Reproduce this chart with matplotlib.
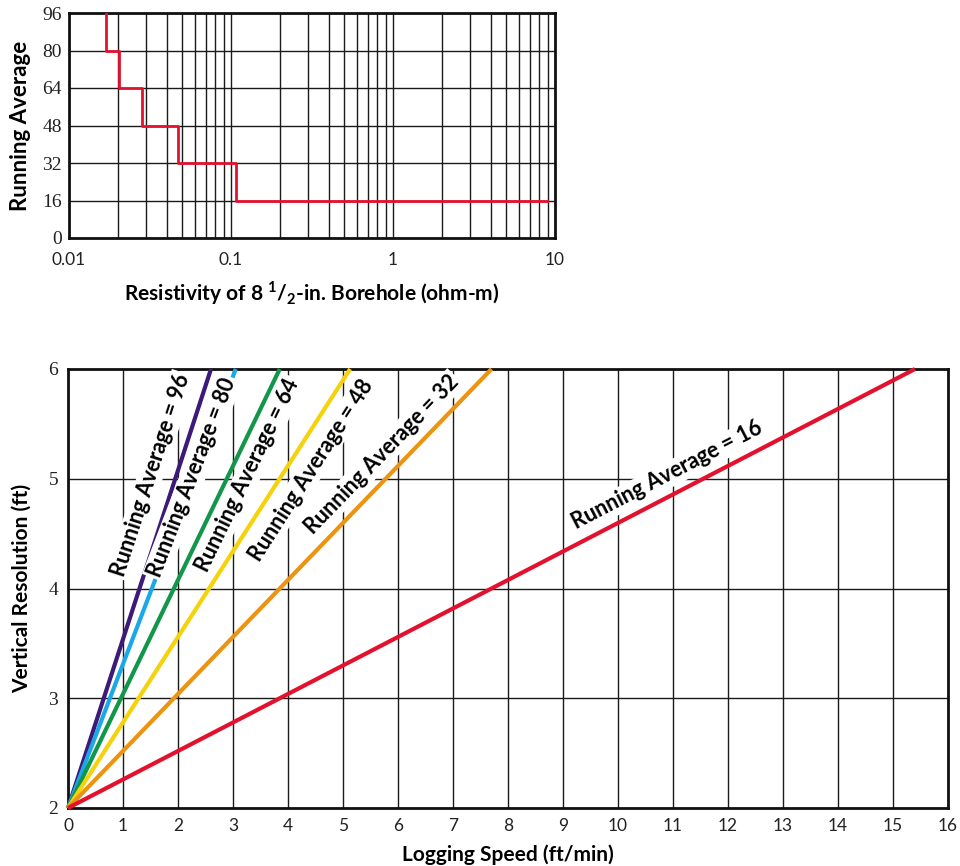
import numpy as np
import matplotlib
matplotlib.use("Agg")
import matplotlib.pyplot as plt
from matplotlib.ticker import FixedLocator, NullFormatter, LogLocator

plt.rcParams['font.family'] = ['Lato', 'DejaVu Sans']
plt.rcParams['mathtext.fontset'] = 'custom'
plt.rcParams['mathtext.bf'] = 'Lato:bold'
plt.rcParams['mathtext.rm'] = 'Lato:bold'

# ---- top chart data (step curve) ----
resistivity = [0.0169, 0.0203, 0.0281, 0.0468, 0.108, 8.9]
running_avg_step = [96, 80, 64, 48, 32, 16]
top_yticks = [0, 16, 32, 48, 64, 80, 96]
top_xticks = [0.01, 0.1, 1, 10]
top_xticklabels = ["0.01", "0.1", "1", "10"]

# ---- bottom chart data ----
running_avgs = [96, 80, 64, 48, 32, 16]
speed_at_6ft = [2.6, 3.05, 3.85, 5.13, 7.7, 15.4]
res_start = 2.0
res_end = 6.0
line_colors = ["#3d1a78", "#1aa9e6", "#12964a", "#f5d20a", "#ec9410", "#e2122f"]
label_pos = [(1.5, 5.03), (2.26, 5.01), (3.27, 5.03), (4.42, 5.08), (5.7, 5.22), (10.9, 5.03)]
bottom_xticks = list(range(0, 17))
bottom_yticks = [2, 3, 4, 5, 6]

W, H = 960, 866
fig = plt.figure(figsize=(W / 100, H / 100), dpi=100)

def rect(l, t, r, b):
    return [l / W, 1 - b / H, (r - l) / W, (b - t) / H]

grid_kw = dict(color="#1a1a1a", linewidth=1.0)
tick_font = dict(family=['Lato', 'DejaVu Sans'], size=12.5, color="#222222")
ytick_font = dict(family=['Liberation Serif', 'DejaVu Serif'], size=14, color="#222222")
label_font = dict(family=['Lato', 'DejaVu Sans'], size=15, weight='bold')

# ---------------- top axes ----------------
ax1 = fig.add_axes(rect(69, 13, 555, 238))
ax1.set_xscale('log')
ax1.set_xlim(0.01, 10)
ax1.set_ylim(0, 96)
ax1.step(resistivity, running_avg_step, where='pre', color="#e2122f", linewidth=2.0, zorder=3)
ax1.xaxis.set_major_locator(FixedLocator(top_xticks))
ax1.xaxis.set_minor_locator(LogLocator(base=10, subs=np.arange(2, 10)))
ax1.xaxis.set_minor_formatter(NullFormatter())
ax1.set_xticks(top_xticks)
ax1.set_xticklabels(top_xticklabels, **tick_font)
ax1.set_yticks(top_yticks)
ax1.set_yticklabels([str(v) for v in top_yticks], **ytick_font)
ax1.grid(True, which='both', axis='x', **grid_kw)
ax1.grid(True, which='major', axis='y', **grid_kw)
ax1.tick_params(which='both', length=0)
ax1.tick_params(axis='x', pad=10)
ax1.tick_params(axis='y', pad=5)
ax1.set_xlabel(r"Resistivity of 8 $^{\mathbf{1}}$/$_{\mathbf{2}}$-in. Borehole (ohm-m)", labelpad=8, **label_font)
ax1.set_ylabel("Running Average", labelpad=8, family=['Lato', 'DejaVu Sans'], size=16, weight='bold')
for s in ax1.spines.values():
    s.set_linewidth(2.0)
    s.set_color("#111111")
ax1.set_axisbelow(True)

# ---------------- bottom axes ----------------
ax2 = fig.add_axes(rect(68, 369, 948, 808))
ax2.set_xlim(0, 16)
ax2.set_ylim(2, 6)
ax2.set_xticks(bottom_xticks)
ax2.set_xticklabels([str(v) for v in bottom_xticks], **tick_font)
ax2.set_yticks(bottom_yticks)
ax2.set_yticklabels([str(v) for v in bottom_yticks], **ytick_font)
ax2.grid(True, **grid_kw)
ax2.tick_params(length=0, pad=7)
ax2.set_axisbelow(True)
for s in ax2.spines.values():
    s.set_linewidth(2.0)
    s.set_color("#111111")
ax2.set_xlabel("Logging Speed (ft/min)", labelpad=8, **label_font)
ax2.set_ylabel("Vertical Resolution (ft)", labelpad=12, **label_font)

for ra, sp, col, (tx, ty) in zip(running_avgs, speed_at_6ft, line_colors, label_pos):
    ax2.plot([0, sp], [res_start, res_end], color=col, linewidth=3.0, zorder=3,
             solid_capstyle='butt', clip_on=False)
    data_angle = np.degrees(np.arctan2(res_end - res_start, sp))
    screen_angle = ax2.transData.transform_angles(np.array([data_angle]),
                                                  np.array([[tx, ty]]))[0]
    ax2.text(tx, ty, f"Running Average = {ra}", rotation=screen_angle,
             rotation_mode='anchor', ha='center', va='center', zorder=5,
             family=['Lato', 'DejaVu Sans'], size=15.5, weight='bold',
             bbox=dict(boxstyle='square,pad=0.1', facecolor='white', edgecolor='none'))

fig.savefig("out.png", dpi=100)
